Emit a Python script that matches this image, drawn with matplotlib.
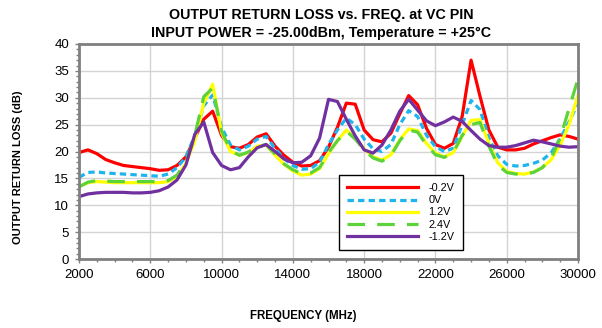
import numpy as np
import matplotlib
matplotlib.use("Agg")
import matplotlib.pyplot as plt
from matplotlib.ticker import MultipleLocator

# ---------- data ----------
freq_mhz = np.arange(2000, 30001, 500)

rl_m02 = [19.8, 20.3, 19.6, 18.5, 17.9, 17.4, 17.2, 17.0, 16.8, 16.5,
          16.6, 17.4, 19.0, 22.5, 26.0, 27.5, 23.0, 20.9, 20.6, 21.3,
          22.7, 23.3, 21.0, 19.3, 18.0, 17.3, 17.4, 18.3, 20.8, 24.5,
          29.0, 28.8, 24.0, 22.2, 21.8, 23.4, 27.0, 30.4, 28.7, 24.3,
          21.3, 20.6, 21.5, 26.5, 37.0, 30.3, 24.0, 20.8, 20.3, 20.3,
          20.6, 21.4, 22.0, 22.6, 23.1, 22.8, 22.3]

rl_0 = [15.2, 16.1, 16.2, 16.0, 15.9, 15.8, 15.7, 15.6, 15.5, 15.4,
        15.8, 17.0, 19.0, 23.0, 28.5, 30.5, 24.5, 21.2, 20.3, 21.0,
        22.3, 22.8, 20.6, 18.7, 17.4, 16.7, 16.8, 18.0, 21.3, 24.0,
        26.2, 25.0, 22.3, 20.5, 20.0, 21.3, 25.0, 27.6, 26.5, 23.0,
        20.9, 20.0, 20.6, 25.0, 29.5, 27.8, 22.5, 19.2, 17.6, 17.3,
        17.4, 17.8, 18.4, 19.8, 22.4, 25.5, 29.0]

rl_12 = [13.5, 14.2, 14.4, 14.3, 14.2, 14.2, 14.2, 14.2, 14.2, 14.2,
         14.4, 15.3, 17.8, 22.0, 29.0, 32.5, 23.5, 20.0, 19.3, 19.8,
         21.0, 21.2, 19.3, 17.6, 16.4, 15.6, 15.8, 16.8, 19.6, 22.0,
         24.0, 22.5, 20.5, 19.0, 18.4, 19.4, 22.2, 24.2, 23.9, 21.5,
         19.7, 19.0, 19.8, 22.8, 25.8, 25.9, 21.5, 17.9, 16.3, 15.9,
         15.8, 16.2, 17.0, 18.5, 21.2, 25.0, 30.5]

rl_24 = [13.4, 14.3, 14.6, 14.5, 14.4, 14.4, 14.4, 14.4, 14.4, 14.4,
         14.6, 15.6, 18.0, 23.0, 30.2, 31.8, 23.8, 20.2, 19.3, 19.9,
         20.9, 21.3, 19.5, 17.7, 16.6, 15.9, 16.0, 17.0, 19.8, 22.0,
         23.8, 22.3, 20.3, 18.8, 18.2, 19.2, 22.0, 24.0, 23.6, 21.2,
         19.4, 18.9, 19.8, 23.0, 25.0, 25.4, 21.0, 17.5, 16.1, 15.8,
         15.8, 16.1, 17.0, 18.8, 22.5, 28.0, 33.5]

rl_m12 = [11.6, 12.1, 12.3, 12.4, 12.4, 12.4, 12.3, 12.3, 12.4, 12.7,
          13.4, 14.7, 17.5, 23.2, 25.5, 19.8, 17.4, 16.6, 17.0, 19.0,
          20.7, 21.3, 20.0, 18.6, 17.9, 18.0, 19.2, 22.5, 29.7, 29.3,
          26.0, 22.9, 20.3, 19.7, 21.2, 24.0, 27.5, 29.7, 27.7, 25.7,
          24.8, 25.5, 26.4, 25.6, 23.9, 22.3, 21.1, 20.8, 20.8, 21.1,
          21.6, 22.1, 21.8, 21.4, 21.0, 20.8, 20.9]

plt.rcParams['font.family'] = ['Liberation Sans', 'DejaVu Sans']

W, H = 602, 328
fig = plt.figure(figsize=(W / 100, H / 100), dpi=100)
ax = fig.add_axes([79 / W, 1 - 259 / H, 499 / W, 215 / H])

lw = 2.3
ax.plot(freq_mhz, rl_m02, color='#FF0000', lw=lw, label='-0.2V')
ax.plot(freq_mhz, rl_0, color='#1EB4EE', lw=lw, dashes=(2.0, 1.3), label='0V')
ax.plot(freq_mhz, rl_12, color='#FFFF00', lw=lw, label='1.2V')
ax.plot(freq_mhz, rl_24, color='#5CD33A', lw=lw, dashes=(5.5, 3.8), label='2.4V')
ax.plot(freq_mhz, rl_m12, color='#7030A0', lw=lw, label='-1.2V')

ax.set_xlim(2000, 30000)
ax.set_ylim(0, 40)
ax.set_xticks(np.arange(2000, 30001, 4000))
ax.set_yticks(np.arange(0, 41, 5))
ax.xaxis.set_minor_locator(MultipleLocator(1000))
ax.yaxis.set_minor_locator(MultipleLocator(1))
ax.grid(True, which='major', color='#D4D4D4', lw=1.0)
ax.set_axisbelow(True)

for s in ax.spines.values():
    s.set_color('#808080')
    s.set_linewidth(2.0)
ax.tick_params(which='major', direction='out', length=3, width=1, color='#808080',
               labelsize=9.5, pad=4)
ax.tick_params(which='minor', direction='out', length=2, width=1, color='#808080')

# titles and axis labels placed like the reference
fig.text(321 / W, 1 - 15 / H, 'OUTPUT RETURN LOSS vs. FREQ. at VC PIN',
         ha='center', va='center', fontsize=10.3, fontweight='bold')
fig.text(321 / W, 1 - 33 / H, 'INPUT POWER = -25.00dBm, Temperature = +25°C',
         ha='center', va='center', fontsize=10.3, fontweight='bold')
fig.text(303 / W, 1 - 316 / H, 'FREQUENCY (MHz)',
         ha='center', va='center', fontsize=8.3, fontweight='bold')
fig.text(18 / W, 1 - 167 / H, 'OUTPUT RETURN LOSS (dB)', rotation=90,
         ha='center', va='center', fontsize=8.0, fontweight='bold')

leg = ax.legend(loc='upper left', bbox_to_anchor=(260 / 499, 84 / 215), fontsize=7.8,
                frameon=True, fancybox=False, edgecolor='black', framealpha=1,
                handlelength=6.5, handletextpad=1.0, labelspacing=0.2,
                borderpad=0.75, borderaxespad=0)
leg.get_frame().set_linewidth(1.0)

fig.savefig('out.png', dpi=100)
